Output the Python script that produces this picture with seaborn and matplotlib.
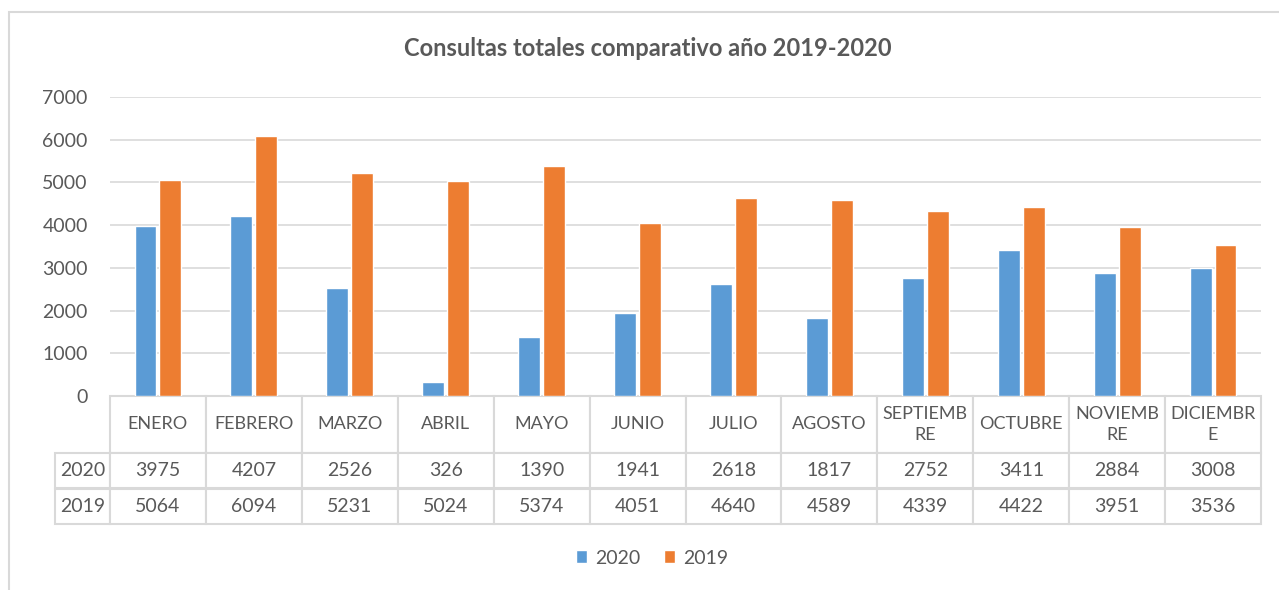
import pandas as pd
import matplotlib
matplotlib.use("Agg")
import matplotlib.pyplot as plt
from matplotlib.patches import Patch, Rectangle
import seaborn as sns

# ── data ──────────────────────────────────────────────────────────────────────
MESES = ["ENERO", "FEBRERO", "MARZO", "ABRIL", "MAYO", "JUNIO", "JULIO",
         "AGOSTO", "SEPTIEMBRE", "OCTUBRE", "NOVIEMBRE", "DICIEMBRE"]
MESES_TABLA = ["ENERO", "FEBRERO", "MARZO", "ABRIL", "MAYO", "JUNIO", "JULIO",
               "AGOSTO", "SEPTIEMB\nRE", "OCTUBRE", "NOVIEMB\nRE", "DICIEMBR\nE"]
C2020 = [3975, 4207, 2526, 326, 1390, 1941, 2618, 1817, 2752, 3411, 2884, 3008]
C2019 = [5064, 6094, 5231, 5024, 5374, 4051, 4640, 4589, 4339, 4422, 3951, 3536]
SERIES = ["2020", "2019"]
PALETTE = {"2020": "#5B9BD5", "2019": "#ED7D31"}
YTICKS = [0, 1000, 2000, 3000, 4000, 5000, 6000, 7000]

TXT = "#595959"
GRID = "#D9D9D9"

df = pd.concat([
    pd.DataFrame({"mes": MESES, "consultas": C2020, "anio": "2020"}),
    pd.DataFrame({"mes": MESES, "consultas": C2019, "anio": "2019"}),
])

sns.set_theme(style="white")
plt.rcParams["font.family"] = ["Lato", "DejaVu Sans"]

W, H = 1279, 590
fig = plt.figure(figsize=(W / 100, H / 100), dpi=100)

# plot area in pixel coords: x 110..1261, y 97..396
x0, x1, ytop, ybot = 110, 1261, 97, 396
ax = fig.add_axes([x0 / W, 1 - ybot / H, (x1 - x0) / W, (ybot - ytop) / H])

sns.barplot(data=df, x="mes", y="consultas", hue="anio", hue_order=SERIES,
            order=MESES, palette=PALETTE, width=0.52, gap=0.12,
            saturation=1, legend=False, ax=ax)

ax.set_ylim(0, 7000)
ax.set_yticks(YTICKS)
ax.set_yticklabels([str(v) for v in YTICKS], fontsize=14, color=TXT)
ax.tick_params(axis="y", length=0, pad=16)
ax.set_xticks([])
ax.set_xlabel("")
ax.set_ylabel("")
ax.yaxis.grid(True, color=GRID, linewidth=1.2)
ax.set_axisbelow(True)
for s in ax.spines.values():
    s.set_visible(False)

# ── data table under the axis ────────────────────────────────────────────────
# bbox covers the month columns only; the row-label column hangs to the left
ph = ybot - ytop
pw = x1 - x0
col_w = 1 / 12
row_lab_w = 55 / pw
tbl = ax.table(cellText=[[str(v) for v in C2020], [str(v) for v in C2019]],
               rowLabels=SERIES, colLabels=MESES_TABLA,
               colWidths=[col_w] * 12,
               cellLoc="center", rowLoc="center",
               bbox=[0, -(524 - ybot) / ph, 1, (524 - ybot) / ph])
tbl._autoColumns = []          # keep the fixed width of the row-label column
tbl.auto_set_font_size(False)
tbl.set_fontsize(14)
for (r, c), cell in tbl.get_celld().items():
    cell.set_edgecolor(GRID)
    cell.set_linewidth(1.5)
    cell.get_text().set_color(TXT)
    cell.set_height(57 / ph if r == 0 else 35.5 / ph)
    if r == 0:
        cell.get_text().set_fontsize(13)
        cell.get_text().set_linespacing(1.45)
    if c == -1:
        cell.set_width(row_lab_w)

# ── title, legend, chart frame ───────────────────────────────────────────────
fig.text(648 / W, 1 - 48 / H, "Consultas totales comparativo año 2019-2020",
         ha="center", va="center", fontsize=17, fontweight="bold", color=TXT)

handles = [Patch(facecolor=PALETTE[s], label=s) for s in SERIES]
fig.legend(handles=handles, loc="center", bbox_to_anchor=(652 / W, 1 - 558 / H),
           ncol=2, frameon=False, fontsize=14, handlelength=0.6, handleheight=0.6,
           handletextpad=0.4, columnspacing=1.2, labelcolor=TXT)

fig.patches.append(Rectangle((9 / W, -0.1), 1.2, 1.1 - 12 / H,
                             transform=fig.transFigure, fill=False,
                             edgecolor=GRID, linewidth=1.5, clip_on=False))

fig.savefig("out.png", dpi=100)
